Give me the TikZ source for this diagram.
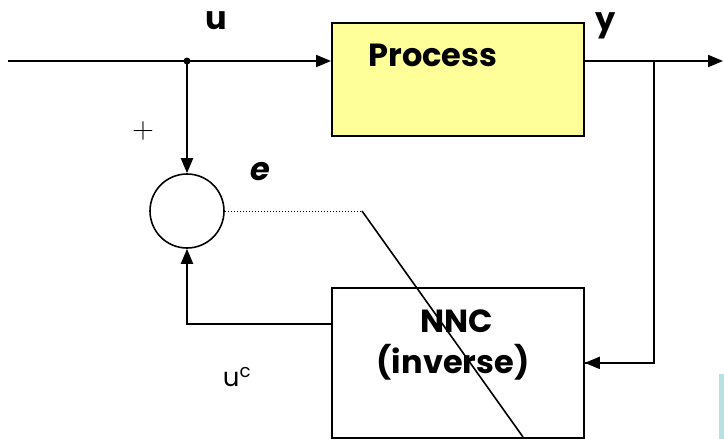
\documentclass[tikz,border=0pt]{standalone}
\usepackage{fontspec}
\setmainfont{Poppins}
\usetikzlibrary{arrows.meta}
\definecolor{procfill}{HTML}{FFFF99}
\definecolor{cornerc}{HTML}{B8E2E2}
\begin{document}
\begin{tikzpicture}[x=1pt,y=-1pt,
  wire/.style={line width=2pt},
  arr/.style={wire,-{Triangle[length=15pt,width=12pt]}},
  blockbox/.style={draw,line width=1.8pt,anchor=north west,inner sep=0pt,minimum width=252pt},
  lbl/.style={font=\fontsize{32}{34}\selectfont\bfseries,inner sep=0pt},
  sml/.style={font=\fontsize{26}{28}\selectfont,inner sep=0pt}]
\useasboundingbox (0,0) rectangle (724,439);
\fill[cornerc] (719,374) rectangle (724,439);
% blocks
\node[blockbox,fill=procfill,minimum height=113pt] (proc) at (331,22) {};
\node[blockbox,minimum height=150pt] (nnc) at (331,287) {};
\node[draw,circle,line width=1.6pt,minimum size=74pt,inner sep=0pt] (sum) at (187,211) {};
% texts
\node[lbl] (ptext) at (433,55) {Process};
\node[lbl] (ntext) at (457,321) {NNC};
\node[lbl] (itext) at (453,362) {(inverse)};
\node[lbl] (ulab) at (216,21) {u};
\node[lbl] (ylab) at (606,26) {y};
\node[lbl,font=\fontsize{32}{34}\selectfont\bfseries\itshape] (elab) at (260,172) {e};
\node[sml] (uclab) at (237,377) {u\textsuperscript{c}};
\node[font=\fontsize{30}{32}\selectfont\sffamily,inner sep=0pt] (plus) at (143,131) {+};
% coordinates
\coordinate (in) at (8,61);
\coordinate (j) at (187,61);
\coordinate (out) at (723,61);
\coordinate (br) at (654,61);
\coordinate (fb) at (331,324);
\coordinate (dk) at (362,211);
\coordinate (de) at (523,437);
% connectors
\draw[wire] (in) -- (j);
\draw[arr] (j) -- (j -| proc.west);
\draw[arr] (proc.east |- j) -- (out);
\draw[wire] (br) |- (nnc.east);
\draw[arr] (br |- nnc.east) -- (nnc.east);
\fill (j) circle (3.5pt);
\draw[arr] (j) -- (sum.north);
\draw[arr] (fb) -| (sum.south);
\draw[line width=1pt,dotted] (sum.east) -- (dk);
\draw[line width=1.6pt] (dk) -- (de);
\end{tikzpicture}
\end{document}
